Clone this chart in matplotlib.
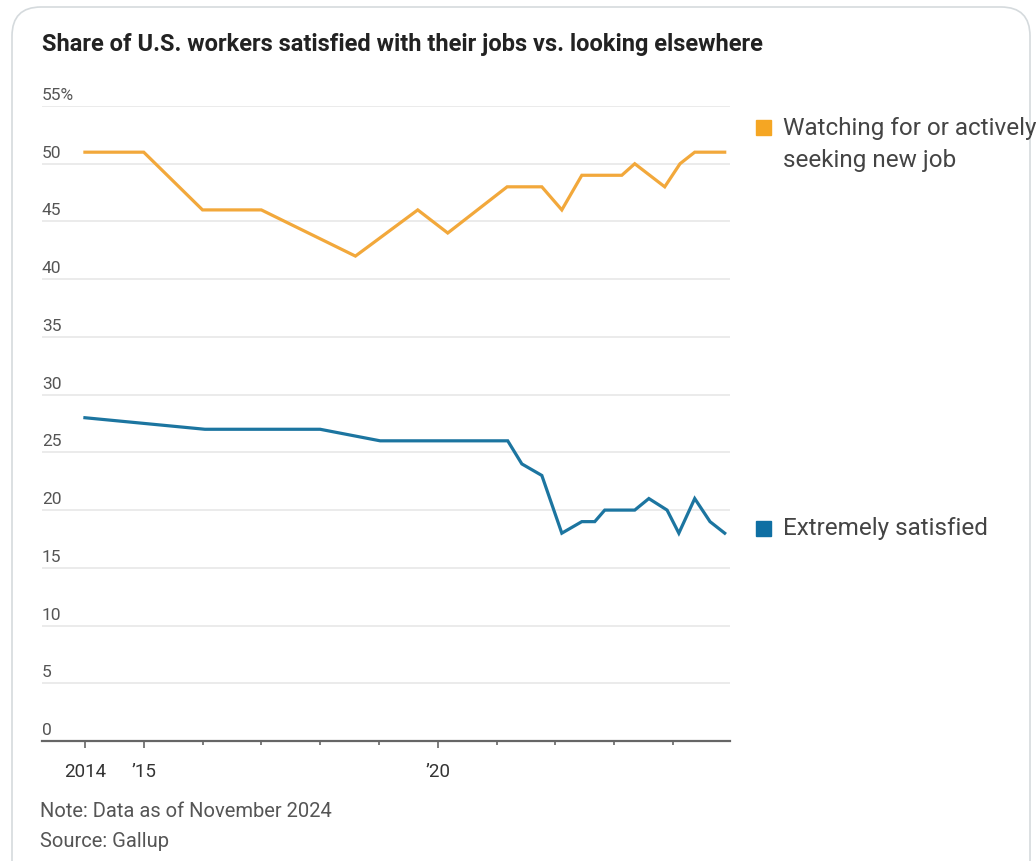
import matplotlib
matplotlib.use("Agg")
import matplotlib.pyplot as plt
from matplotlib.patches import FancyBboxPatch
from matplotlib.transforms import blended_transform_factory

plt.rcParams['font.family'] = ['Roboto', 'DejaVu Sans']

# Gallup survey readings, fractional year
seeking_years = [2014.0, 2015.0, 2016.0, 2017.0, 2018.6, 2019.66, 2020.17, 2021.18,
                 2021.77, 2022.11, 2022.45, 2023.13, 2023.35, 2023.86, 2024.12,
                 2024.37, 2024.88]
seeking_vals = [51, 51, 46, 46, 42, 46, 44, 48, 48, 46, 49, 49, 50, 48, 50, 51, 51]

satisfied_years = [2014.0, 2016.04, 2018.0, 2019.02, 2021.19, 2021.43, 2021.77, 2022.11,
                   2022.45, 2022.67, 2022.84, 2023.35, 2023.59, 2023.9, 2024.1,
                   2024.37, 2024.63, 2024.88]
satisfied_vals = [28, 27, 27, 26, 26, 24, 23, 18, 19, 19, 20, 20, 21, 20, 18, 21, 19, 18]

y_ticks = [0, 5, 10, 15, 20, 25, 30, 35, 40, 45, 50, 55]
y_labels = ['0', '5', '10', '15', '20', '25', '30', '35', '40', '45', '50', '55%']
x_ticks = [2014, 2015, 2020]
x_labels = ['2014', "\u201915", "\u201920"]

orange = '#F2A83B'
blue = '#1C75A0'
grey_txt = '#555555'

W, H = 1036, 862
fig = plt.figure(figsize=(W / 100, H / 100), dpi=100)

# card outline, kept behind everything
card = FancyBboxPatch((12 / W, -0.05), (1030 - 12) / W, (H - 8) / H + 0.05,
                      boxstyle="round,pad=0,rounding_size=0.028",
                      transform=fig.transFigure, fc='white', ec='#d5dadd', lw=1.2,
                      zorder=-10, mutation_aspect=W / H)
fig.patches.append(card)

ax = fig.add_axes([42 / W, (H - 742) / H, (730 - 42) / W, (742 - 107) / H])
ax.set_zorder(5)
ax.set_xlim(2013.27, 2024.97)
ax.set_ylim(0, 55)
ax.patch.set_alpha(0)

for v in y_ticks[1:]:
    ax.axhline(v, color='#e8e8e8', lw=1.2, zorder=0)

ax.plot(seeking_years, seeking_vals, color=orange, lw=2.3, solid_joinstyle='miter', zorder=3)
ax.plot(satisfied_years, satisfied_vals, color=blue, lw=2.3, solid_joinstyle='miter', zorder=3)

for s in ['top', 'right', 'left']:
    ax.spines[s].set_visible(False)
ax.spines['bottom'].set_color('#666666')
ax.spines['bottom'].set_linewidth(1.6)

ax.set_yticks([])
tr = blended_transform_factory(ax.transAxes, ax.transData)
for v, lab in zip(y_ticks, y_labels):
    ax.text(0.0, v + 0.35, lab, transform=tr, ha='left', va='bottom',
            fontsize=12.5, color=grey_txt)

ax.set_xticks(x_ticks)
ax.set_xticklabels(x_labels, fontsize=13.5, color='#333333')
ax.set_xticks(range(2016, 2025), minor=True)
ax.tick_params(axis='x', which='major', length=5, width=1.2, color='#666666', pad=10)
ax.tick_params(axis='x', which='minor', length=3, width=1.2, color='#666666')

fig.text(42 / W, 1 - 44 / H, 'Share of U.S. workers satisfied with their jobs vs. looking elsewhere',
         fontsize=17, fontweight='bold', color='#222222', va='center', ha='left')

fig.text(40 / W, 1 - 812 / H, 'Note: Data as of November 2024', fontsize=14.5,
         color=grey_txt, va='center')
fig.text(40 / W, 1 - 842 / H, 'Source: Gallup', fontsize=14.5, color=grey_txt, va='center')

# series labels on the right
fig.patches.append(plt.Rectangle((756 / W, 1 - 136 / H), 15 / W, 15 / H,
                                 transform=fig.transFigure, color='#F5A623'))
fig.text(783 / W, 1 - 129 / H, 'Watching for or actively', fontsize=17.5, color='#444444', va='center')
fig.text(783 / W, 1 - 161 / H, 'seeking new job', fontsize=17.5, color='#444444', va='center')
fig.patches.append(plt.Rectangle((756 / W, 1 - 537 / H), 15 / W, 15 / H,
                                 transform=fig.transFigure, color='#0F6FA3'))
fig.text(783 / W, 1 - 529 / H, 'Extremely satisfied', fontsize=17.5, color='#444444', va='center')

fig.savefig('out.png', dpi=100)
